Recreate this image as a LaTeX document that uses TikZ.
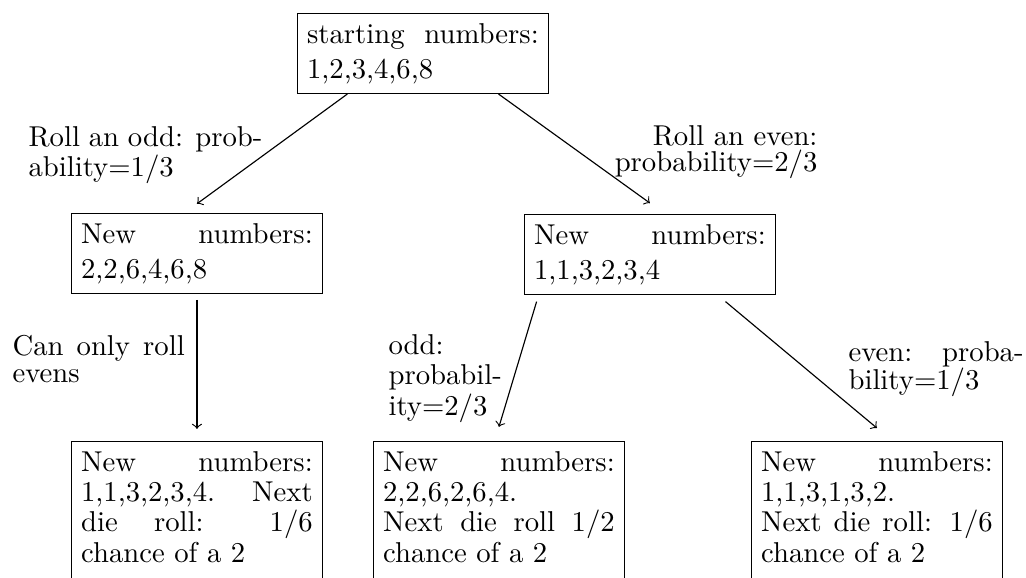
\documentclass[tikz,border=0pt]{standalone}
\usetikzlibrary{calc}
% set a justified paragraph with its own line spacing, closing it inside the node
\newcommand\leadtext[2]{\setlength{\baselineskip}{#1}%
  \leftskip=0pt \rightskip=0pt \spaceskip=0pt \xspaceskip=0pt
  \parfillskip=0pt plus 1fil\relax #2\par}
\begin{document}
\begin{tikzpicture}[x=0.34843pt, y=-0.34843pt,
  box/.style={draw, text width=80.7pt, inner sep=3.33pt, anchor=north west},
  note/.style={inner sep=0pt, anchor=north west},
  flow/.style={->}]
\useasboundingbox (0,0) rectangle (1026,578);

% states of the dice
\node[box] (A) at (297,13) {\leadtext{12.3pt}{starting numbers:\linebreak 1,2,3,4,6,8}};
\node[box] (B) at (71,213) {\leadtext{12.3pt}{New numbers:\linebreak 2,2,6,4,6,8}};
\node[box] (C) at (524,214) {\leadtext{12.3pt}{New numbers:\linebreak 1,1,3,2,3,4}};
\node[box] (D) at (71,441) {\leadtext{10.6pt}{New numbers:\linebreak 1,1,3,2,3,4. Next\linebreak die roll: 1/6\linebreak chance of a 2}\kern6pt};
\node[box] (E) at (373,441) {\leadtext{10.6pt}{New numbers:\linebreak 2,2,6,2,6,4.\newline Next die roll 1/2\linebreak chance of a 2}\kern6pt};
\node[box] (F) at (751,441) {\leadtext{10.6pt}{New numbers:\linebreak 1,1,3,1,3,2.\newline Next die roll: 1/6\linebreak chance of a 2}\kern6pt};

% branch labels
\node[note, text width=81.5pt] (L1) at (28,125.8) {\leadtext{9.1pt}{Roll an odd: prob-\linebreak ability=1/3}};
\node[note, text width=71.5pt, anchor=north east] (L2) at (818,125) {\leadtext{9pt}{\raggedleft Roll an even:\\ probability=2/3}};
\node[note, text width=60pt] (L3) at (12,335) {\leadtext{9.3pt}{Can only roll\linebreak evens}};
\node[note, text width=40pt] (L4) at (388,334) {\leadtext{10.6pt}{odd:\newline probabil-\newline ity=2/3}};
\node[note, text width=61pt] (L5) at (848,341) {\leadtext{9.9pt}{even: proba-\linebreak bility=1/3}};

% branches
\coordinate (a1) at ($(A.south west)!0.2!(A.south east)$);
\coordinate (a2) at ($(A.south west)!0.8!(A.south east)$);
\coordinate (c1) at ($(C.south west)!0.05!(C.south east)$);
\coordinate (c2) at ($(C.south west)!0.8!(C.south east)$);
\draw[flow] (a1) -- ([yshift=3.2pt]B.north);
\draw[flow] (a2) -- ([yshift=3.8pt]C.north);
\draw[flow] ([yshift=-2pt]B.south) -- ([yshift=4.2pt]D.north);
\draw[flow] ([yshift=-2.3pt]c1) -- ([yshift=4.9pt]E.north);
\draw[flow] ([yshift=-2.3pt]c2) -- ([yshift=4.5pt]F.north);
\end{tikzpicture}
\end{document}
